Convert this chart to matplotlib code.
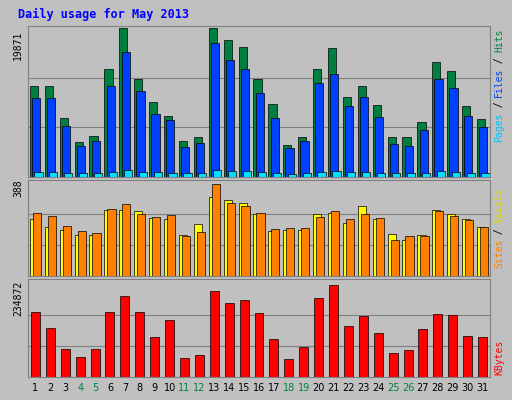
import matplotlib
matplotlib.use("Agg")
import matplotlib.pyplot as plt
import numpy as np

days = list(range(1, 32))
weekend = [4, 5, 11, 12, 18, 19, 25, 26]
hits = [12090,12090,7920,4700,5510,14370,19871,13030,10070,8190,4830,5370,19871,18260,17320,13030,9800,4300,5370,14370,17190,10740,12090,9670,5370,5370,7390,15310,14100,9540,7790]
files = [10610,10610,6850,4160,4830,12090,16650,11550,8460,7650,4030,4570,17860,15580,14370,11280,7920,3890,4830,12490,13700,9540,10740,8060,4430,4160,6310,13030,11950,8190,6720]
pages = [700,650,600,550,550,700,900,700,650,600,500,500,900,850,800,700,600,450,500,700,850,650,700,600,500,500,550,750,700,600,550]
visits = [240,207,194,173,173,278,278,274,245,240,173,219,333,320,308,261,190,194,194,261,266,224,295,240,177,152,173,278,261,240,207]
sites = [266,253,211,190,181,283,304,261,249,257,169,186,388,308,295,266,198,202,202,249,274,240,261,245,152,169,169,274,253,236,207]
kbytes = [165900,125100,71500,51100,71500,165900,206800,165900,102100,145500,48500,56200,219600,188900,196600,163400,97000,46000,76600,201700,234872,130200,155700,112300,61300,68900,122500,160800,158300,104700,102100]

BG = "#C0C0C0"
fig = plt.figure(figsize=(5.12, 4.0), dpi=100, facecolor=BG)
W, H = 512, 400
def ax_at(x0, y0, x1, y1):
    a = fig.add_axes([x0/W, 1-y1/H, (x1-x0)/W, (y1-y0)/H])
    a.set_facecolor(BG)
    for s in a.spines.values():
        s.set_color("#808080")
    a.set_xlim(0.5, 31.5)
    a.set_xticks([])
    a.set_yticks([])
    return a

fig.text(18/W, 1-14/H, "Daily usage for May 2013", color="#0000FF", fontsize=8.5,
         fontweight="bold", family="DejaVu Sans Mono", va="center")
x = np.array(days)

def grid(a, mx):
    for f in (1/3, 2/3):
        a.axhline(mx*f, color="#808080", lw=0.8, zorder=0)

a1 = ax_at(28, 26, 490, 177)
grid(a1, 19871)
a1.set_ylim(0, 19871*1.015)
a1.bar(x-0.1, hits, 0.55, color="#008040", edgecolor="black", lw=0.5, zorder=2)
a1.bar(x+0.05, files, 0.55, color="#0040FF", edgecolor="black", lw=0.5, zorder=3)
a1.bar(x+0.2, pages, 0.55, color="#00E0FF", edgecolor="black", lw=0.5, zorder=4)
fig.text(18/W, 1-45/H, "19871", rotation=90, fontsize=7, family="DejaVu Sans Mono", va="center", ha="center")

a2 = ax_at(28, 180, 490, 276)
grid(a2, 388)
a2.set_ylim(0, 388*1.04)
a2.bar(x-0.1, visits, 0.55, color="#FFFF00", edgecolor="black", lw=0.5, zorder=2)
a2.bar(x+0.1, sites, 0.55, color="#FF8000", edgecolor="black", lw=0.5, zorder=3)
fig.text(18/W, 1-188/H, "388", rotation=90, fontsize=7, family="DejaVu Sans Mono", va="center", ha="center")

a3 = ax_at(28, 279, 490, 377)
grid(a3, 234872)
a3.set_ylim(0, 234872*1.06)
a3.bar(x, kbytes, 0.6, color="#FF0000", edgecolor="black", lw=0.5, zorder=2)
fig.text(18/W, 1-298/H, "234872", rotation=90, fontsize=7, family="DejaVu Sans Mono", va="center", ha="center")

for d in days:
    xp = 28 + (d-0.5)/31*462
    fig.text(xp/W, 1-388/H, str(d), fontsize=7, ha="center", va="center",
             color="#008040" if d in weekend else "black")

def rlabel(y, parts):
    total = sum(len(p[0]) for p in parts)
    cw = 5.6
    yy = y + total*cw/2
    for t, c in parts:
        fig.text(499/W, 1-(yy - len(t)*cw/2)/H, t, rotation=90, fontsize=7,
                 family="DejaVu Sans Mono", color=c, ha="center", va="center")
        yy -= len(t)*cw
rlabel(85, [("Pages", "#00C0FF"), (" / ", "black"), ("Files", "#0040FF"), (" / ", "black"), ("Hits", "#008040")])
rlabel(228, [("Sites", "#FF8000"), (" / ", "black"), ("Visits", "#E0E000")])
rlabel(357, [("KBytes", "#FF0000")])

fig.savefig("out.png", dpi=100, facecolor=BG)
